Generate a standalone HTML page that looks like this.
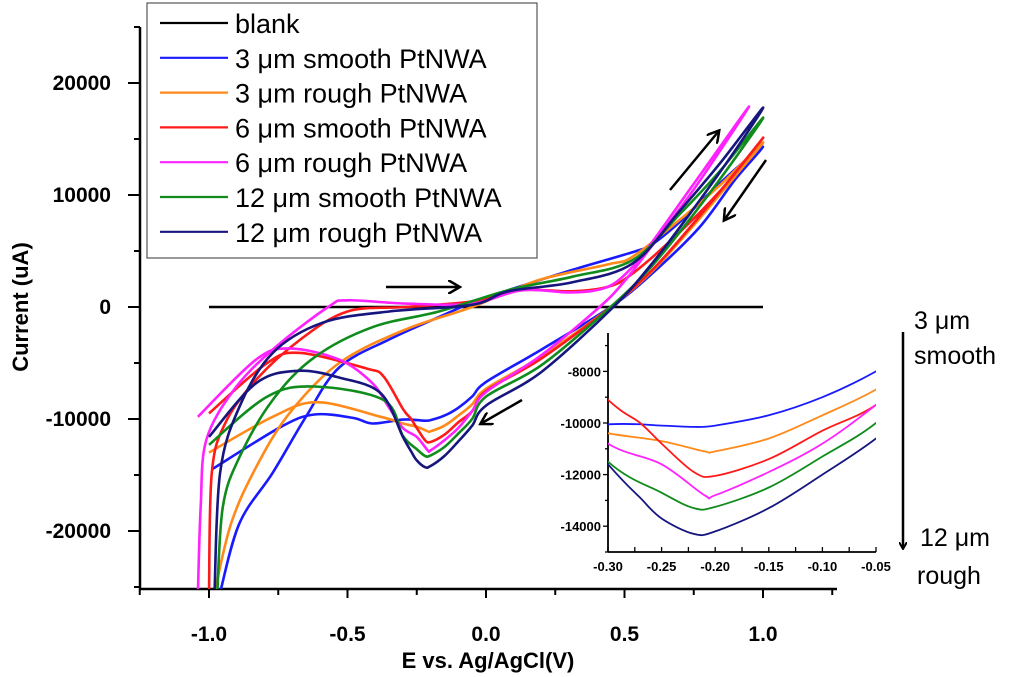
<!DOCTYPE html>
<html><head><meta charset="utf-8">
<style>
html,body{margin:0;padding:0;background:#fff;}
svg{display:block;font-family:"Liberation Sans",Arial,sans-serif;}
</style></head>
<body>
<svg id="chart" width="1024" height="677" viewBox="0 0 1024 677">
<defs>
<clipPath id="mainClip"><rect x="140" y="27" width="697" height="562"/></clipPath>
<clipPath id="insetClip"><rect x="608" y="333" width="268" height="219"/></clipPath>
<marker id="ah" markerWidth="8" markerHeight="8" refX="6" refY="4" orient="auto" markerUnits="userSpaceOnUse">
<path d="M0,0 L7,4 L0,8" fill="none" stroke="#000" stroke-width="2"/></marker>
<marker id="ah2" markerWidth="14" markerHeight="14" refX="10" refY="7" orient="auto" markerUnits="userSpaceOnUse">
<path d="M0,0 L12,7 L0,14" fill="none" stroke="#000" stroke-width="2.5"/></marker>
</defs>
<g id="main"></g>
<g id="inset"></g>
<g id="legend">
<rect x="147" y="3" width="390" height="255" fill="#fff" stroke="#555" stroke-width="1.2"/>
</g>
<text x="22" y="307" transform="rotate(-90 22 307)" text-anchor="middle" dominant-baseline="middle" font-size="22" font-weight="bold">Current (uA)</text>
<text x="488" y="668" text-anchor="middle" font-size="22" font-weight="bold">E vs. Ag/AgCl(V)</text>
<g stroke="#000" stroke-width="2.5">
<line x1="386" y1="287" x2="458" y2="287" marker-end="url(#ah2)"/>
<line x1="522" y1="400" x2="482" y2="423" marker-end="url(#ah2)"/>
<line x1="670" y1="190" x2="718" y2="132" marker-end="url(#ah2)"/>
<line x1="766" y1="160" x2="725" y2="219" marker-end="url(#ah2)"/>
</g>
<g>
<text x="914" y="329" font-size="25">3 μm</text>
<text x="914" y="364" font-size="25">smooth</text>
<line x1="903" y1="332" x2="903" y2="548" stroke="#000" stroke-width="2.5" marker-end="url(#ah)"/>
<text x="920" y="546" font-size="25">12 μm</text>
<text x="917" y="584" font-size="25">rough</text>
</g>
</svg>
<script>
const seriesNames = ["3 μm smooth PtNWA","3 μm rough PtNWA","6 μm smooth PtNWA","6 μm rough PtNWA","12 μm smooth PtNWA","12 μm rough PtNWA"];
const seriesColors = ["#1a1aff","#ff8a1a","#ff1a1a","#ff22ff","#108c1c","#16167e"];
const blankE = [-1.0, 1.0];
const blankI = [0, 0];
const xTicks = [-1.0,-0.5,0.0,0.5,1.0];
const xTickLabels = ["-1.0","-0.5","0.0","0.5","1.0"];
const yTicks = [-20000,-10000,0,10000,20000];
const yTickLabels = ["-20000","-10000","0","10000","20000"];
const insetXTicks = [-0.30,-0.25,-0.20,-0.15,-0.10,-0.05];
const insetXLabels = ["-0.30","-0.25","-0.20","-0.15","-0.10","-0.05"];
const insetYTicks = [-8000,-10000,-12000,-14000];
const insetYLabels = ["-8000","-10000","-12000","-14000"];

const E_blue = [-0.96,-0.89,-0.77,-0.65,-0.53,-0.35,-0.17,-0.05,0.08,0.31,0.53,0.6,0.7,0.8,0.9,1.0, 0.9,0.77,0.6,0.45,0.2,0.0,-0.05,-0.10,-0.15,-0.20,-0.22,-0.25,-0.30,-0.41,-0.48,-0.62,-0.74,-0.99];
const I_blue = [-25500,-19300,-14800,-9800,-5400,-2900,-900,400,1500,3300,4900,5600,7600,10000,12300,14300, 11400,7100,3000,0,-3800,-6700,-8000,-9000,-9700,-10100,-10150,-10100,-10050,-10400,-9900,-9600,-10700,-14500];
const E_orange = [-0.98,-0.92,-0.83,-0.71,-0.53,-0.29,-0.05,0.19,0.44,0.53,0.7,0.85,1.0, 0.9,0.75,0.6,0.45,0.2,0.0,-0.05,-0.10,-0.15,-0.20,-0.21,-0.25,-0.30,-0.38,-0.61,-0.77,-1.0];
const I_orange = [-25500,-19300,-14300,-9500,-5000,-2000,0,2400,3800,4500,7800,11000,14700, 11700,7300,3200,0,-4400,-7300,-8700,-9700,-10600,-11100,-11100,-10700,-10400,-9800,-8500,-9800,-13000];
const E_red = [-1.0,-0.99,-0.94,-0.83,-0.67,-0.50,-0.29,-0.05,0.13,0.31,0.44,0.53,0.7,0.85,1.0, 0.9,0.75,0.6,0.45,0.2,0.0,-0.05,-0.10,-0.15,-0.20,-0.22,-0.25,-0.27,-0.30,-0.37,-0.43,-0.67,-0.79,-1.0];
const I_red = [-25500,-14800,-10300,-6500,-2900,-400,0,500,1500,1400,1800,3000,6700,10500,15100, 12000,7500,3300,0,-4600,-7500,-9300,-10300,-11400,-12050,-11900,-10800,-10000,-9100,-6200,-5500,-4100,-5000,-9500];
const E_magenta = [-1.04,-1.03,-1.01,-0.91,-0.77,-0.57,-0.50,-0.29,-0.05,0.13,0.31,0.44,0.53,0.6,0.75,0.95, 0.75,0.6,0.5,0.41,0.2,0.0,-0.05,-0.10,-0.15,-0.20,-0.21,-0.25,-0.30,-0.35,-0.41,-0.53,-0.71,-0.83,-1.04];
const I_magenta = [-25500,-17800,-11900,-7400,-3800,0,600,300,300,1500,1300,1800,3600,5800,11000,17900, 10500,5500,2300,0,-4300,-7600,-9300,-10800,-11900,-12800,-12800,-11600,-10800,-9000,-6800,-4700,-3700,-4700,-9800];
const E_green = [-0.97,-0.95,-0.89,-0.77,-0.62,-0.41,-0.17,0.08,0.31,0.53,0.7,0.85,1.0, 0.9,0.75,0.6,0.45,0.2,0.0,-0.05,-0.10,-0.15,-0.20,-0.22,-0.25,-0.30,-0.37,-0.62,-0.79,-1.0];
const I_green = [-25500,-17800,-13400,-8300,-4500,-1800,-400,1500,2700,4200,8300,12300,16900, 13300,8300,3700,0,-5200,-8000,-10000,-11300,-12500,-13250,-13300,-12700,-11500,-8300,-7100,-8000,-12300];
const E_navy = [-0.98,-0.96,-0.89,-0.77,-0.59,-0.35,-0.05,0.08,0.31,0.53,0.7,0.85,1.0, 0.9,0.75,0.6,0.46,0.2,0.0,-0.05,-0.10,-0.15,-0.20,-0.22,-0.25,-0.27,-0.30,-0.38,-0.53,-0.68,-0.83,-1.0];
const I_navy = [-25500,-14800,-8900,-4100,-1400,-400,200,1400,2200,3900,8600,13000,17800, 14000,8800,3900,0,-5800,-8800,-10600,-12000,-13300,-14200,-14300,-13700,-12900,-11600,-7700,-6300,-5700,-6800,-11600];
const seriesE = [E_blue,E_orange,E_red,E_magenta,E_green,E_navy];
const seriesI = [I_blue,I_orange,I_red,I_magenta,I_green,I_navy];

const NS = "http://www.w3.org/2000/svg";
function mk(tag, attrs, parent){const el=document.createElementNS(NS,tag);for(const k in attrs)el.setAttribute(k,attrs[k]);parent.appendChild(el);return el;}
const xMain = e => 486 + e*277;
const yMain = v => 307 - v*0.0112;
const xIn = e => 608 + (e+0.30)/0.25*268;
const yIn = v => 423 - (v+10000)*0.0258;

function smoothPath(pts){
  if(pts.length<3){return "M"+pts.map(p=>p[0].toFixed(1)+","+p[1].toFixed(1)).join(" L");}
  let d="M"+pts[0][0].toFixed(1)+","+pts[0][1].toFixed(1);
  for(let i=0;i<pts.length-1;i++){
    const p0=pts[i-1]||pts[i],p1=pts[i],p2=pts[i+1],p3=pts[i+2]||p2;
    const c1=[p1[0]+(p2[0]-p0[0])/6,p1[1]+(p2[1]-p0[1])/6];
    const c2=[p2[0]-(p3[0]-p1[0])/6,p2[1]-(p3[1]-p1[1])/6];
    d+=" C"+c1[0].toFixed(1)+","+c1[1].toFixed(1)+" "+c2[0].toFixed(1)+","+c2[1].toFixed(1)+" "+p2[0].toFixed(1)+","+p2[1].toFixed(1);
  }
  return d;
}

const main = document.getElementById("main");
const ax = mk("g",{},main);


mk("line",{x1:140,y1:27,x2:140,y2:589,stroke:"#000","stroke-width":2.5},ax);
mk("line",{x1:140,y1:589,x2:837,y2:589,stroke:"#000","stroke-width":2.5},ax);
for(let v=-25000; v<=25000; v+=5000){
  const major = v%10000===0;
  const t = mk("line",{x1:140-(major?12:6),y1:yMain(v),x2:140,y2:yMain(v),stroke:"#000","stroke-width":2},ax);
  
  
}
for(let e=-1.25; e<=1.2501; e+=0.25){
  const major = Math.abs(Math.round(e*2)-e*2)<1e-6;
  const t = mk("line",{x1:xMain(e),y1:589,x2:xMain(e),y2:589+(major?9:6),stroke:"#000","stroke-width":2},ax);
  
  
}
yTicks.forEach((v,i)=>{
  const t=mk("text",{x:111,y:yMain(v)+7,"text-anchor":"end","font-size":21,"font-weight":"bold"},ax);
  t.textContent=yTickLabels[i];
  
  
});
xTicks.forEach((v,i)=>{
  const t=mk("text",{x:xMain(v),y:641,"text-anchor":"middle","font-size":21,"font-weight":"bold"},ax);
  t.textContent=xTickLabels[i];
  
  
});
const plotG = mk("g",{"clip-path":"url(#mainClip)"},main);
const bl = mk("path",{d:smoothPath(blankE.map((e,k)=>[xMain(e),yMain(blankI[k])])),fill:"none",stroke:"#000","stroke-width":2.5},plotG);


seriesE.forEach((E,s)=>{
  const pts=E.map((e,k)=>[xMain(e),yMain(seriesI[s][k])]);
  const p=mk("path",{d:smoothPath(pts),fill:"none",stroke:seriesColors[s],"stroke-width":2.6,"stroke-linejoin":"round"},plotG);
  
  
});

const inset=document.getElementById("inset");
const iax=mk("g",{},inset);


mk("line",{x1:608,y1:333,x2:608,y2:552,stroke:"#000","stroke-width":1.8},iax);
mk("line",{x1:608,y1:552,x2:876,y2:552,stroke:"#000","stroke-width":1.8},iax);
for(let v=-7000; v>=-15000; v-=1000){
  const major=(v%2000===0);
  const t=mk("line",{x1:608-(major?5:3),y1:yIn(v),x2:608,y2:yIn(v),stroke:"#000","stroke-width":1.3},iax);
  
  
}
for(let e=-0.30; e<=-0.0499; e+=0.025){
  const t=mk("line",{x1:xIn(e),y1:552,x2:xIn(e),y2:547,stroke:"#000","stroke-width":1.3},iax);
  
  
}
insetYTicks.forEach((v,i)=>{
  const t=mk("text",{x:601,y:yIn(v)+5,"text-anchor":"end","font-size":13,"font-weight":"bold"},iax);
  t.textContent=insetYLabels[i];
  
  
});
insetXTicks.forEach((v,i)=>{
  const t=mk("text",{x:xIn(v),y:571,"text-anchor":"middle","font-size":13,"font-weight":"bold"},iax);
  t.textContent=insetXLabels[i];
  
  
});
const ig=mk("g",{"clip-path":"url(#insetClip)"},inset);
seriesE.forEach((E,s)=>{
  const rev=[];
  for(let k=1;k<E.length;k++){ if(E[k]<E[k-1] && E[k]>=-0.42 && E[k]<=0.05) rev.push([xIn(E[k]),yIn(seriesI[s][k])]); }
  const p=mk("path",{d:smoothPath(rev),fill:"none",stroke:seriesColors[s],"stroke-width":1.8},ig);
  
  
});

const lg=document.getElementById("legend");
const allNames=["blank"].concat(seriesNames);
const allColors=["#000"].concat(seriesColors);
allNames.forEach((n,i)=>{
  const yb=33+i*34.8;
  const g=mk("g",{},lg);
  
  
  mk("line",{x1:160,y1:yb-10,x2:228,y2:yb-10,stroke:allColors[i],"stroke-width":2.2},g);
  const t=mk("text",{x:235,y:yb,"font-size":27},g);
  t.textContent=n;
});
</script>
</body></html>
